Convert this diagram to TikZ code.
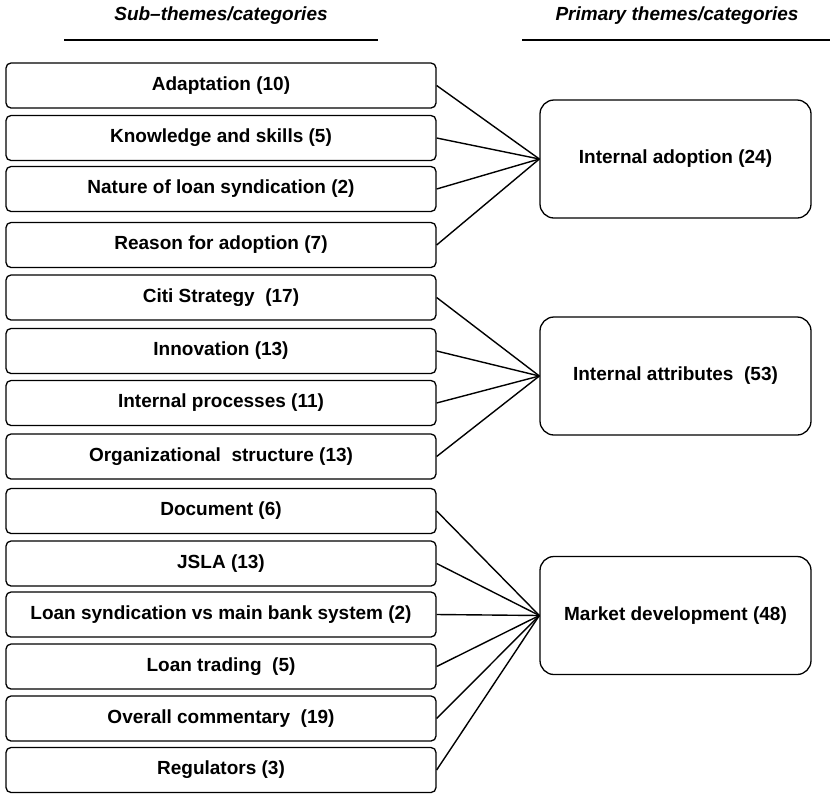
\documentclass[tikz,border=0pt]{standalone}
\usepackage{fontspec}
\setmainfont{Liberation Sans}
\begin{document}
\begin{tikzpicture}[x=1pt,y=-1pt,
  subbox/.style={draw, line width=1.3pt, rounded corners=5pt, minimum width=430pt,
    minimum height=45pt, inner sep=0pt, font=\fontsize{19}{22}\selectfont\bfseries},
  primbox/.style={draw, line width=1.3pt, rounded corners=14pt, minimum width=271pt,
    minimum height=118pt, inner sep=0pt, font=\fontsize{19}{22}\selectfont\bfseries},
  header/.style={font=\fontsize{19}{22}\selectfont\bfseries\itshape, inner sep=0pt},
  rule/.style={line width=1.3pt},
  link/.style={line width=1.4pt}]
\useasboundingbox (0,0) rectangle (830,793);

% column headings
\node[header] (hsub) at (221,16) {Sub–themes/categories};
\node[header] (hprim) at (677,16) {Primary themes/categories};
\coordinate (ra1) at (64,40);  \coordinate (rb1) at (378,40);
\coordinate (ra2) at (522,40); \coordinate (rb2) at (830,40);
\draw[rule] (ra1) -- (rb1);
\draw[rule] (ra2) -- (rb2);

% sub-themes
\node[subbox] (s1)  at (221,85.5)  {Adaptation (10)};
\node[subbox] (s2)  at (221,138)   {Knowledge and skills (5)};
\node[subbox] (s3)  at (221,189)   {Nature of loan syndication (2)};
\node[subbox] (s4)  at (221,245)   {Reason for adoption (7)};
\node[subbox] (s5)  at (221,297.5) {Citi Strategy \ (17)};
\node[subbox] (s6)  at (221,351)   {Innovation (13)};
\node[subbox] (s7)  at (221,403)   {Internal processes (11)};
\node[subbox] (s8)  at (221,456.5) {Organizational \ structure (13)};
\node[subbox] (s9)  at (221,511)   {Document (6)};
\node[subbox] (s10) at (221,563.5) {JSLA (13)};
\node[subbox] (s11) at (221,614.5) {Loan syndication vs main bank system (2)};
\node[subbox] (s12) at (221,666.5) {Loan trading \ (5)};
\node[subbox] (s13) at (221,718.5) {Overall commentary \ (19)};
\node[subbox] (s14) at (221,770)   {Regulators (3)};

% primary themes
\node[primbox] (p1) at (675.5,159)   {Internal adoption (24)};
\node[primbox] (p2) at (675.5,376)   {Internal attributes \ (53)};
\node[primbox] (p3) at (675.5,615.5) {Market development (48)};

% links
\foreach \s in {s1,s2,s3,s4} \draw[link] (\s.east) -- (p1.west);
\foreach \s in {s5,s6,s7,s8} \draw[link] (\s.east) -- (p2.west);
\foreach \s in {s9,s10,s11,s12,s13,s14} \draw[link] (\s.east) -- (p3.west);
\end{tikzpicture}
\end{document}
